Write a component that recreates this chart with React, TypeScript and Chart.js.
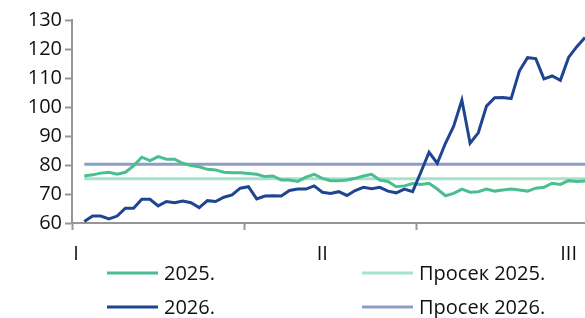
import React, { useEffect, useRef } from 'react';
import { Chart, registerables } from 'chart.js';

Chart.register(...registerables);

// ---- Data -------------------------------------------------------------
const series2025 = [
  76.2, 76.6, 77.2, 77.5, 76.8, 77.5, 79.7, 82.7, 81.5, 82.9,
  82.0, 82.0, 80.6, 79.8, 79.4, 78.5, 78.3, 77.5, 77.3, 77.3,
  77.1, 76.8, 76.0, 76.2, 74.8, 74.8, 74.3, 75.8, 76.8, 75.4,
  74.6, 74.6, 74.8, 75.4, 76.2, 76.8, 74.8, 74.3, 72.5, 72.8,
  73.6, 73.3, 73.7, 71.7, 69.4, 70.2, 71.7, 70.6, 70.8, 71.7,
  71.0, 71.4, 71.7, 71.4, 71.0, 72.0, 72.3, 73.7, 73.3, 74.6,
  74.3, 74.5,
];
const series2026 = [
  60.5, 62.4, 62.4, 61.4, 62.4, 65.1, 65.1, 68.2, 68.2, 65.9,
  67.4, 67.0, 67.6, 67.0, 65.3, 67.7, 67.4, 68.9, 69.7, 72.0,
  72.5, 68.3, 69.3, 69.4, 69.3, 71.2, 71.7, 71.7, 72.8, 70.6,
  70.2, 70.8, 69.5, 71.2, 72.3, 71.8, 72.3, 71.0, 70.4, 71.7,
  70.8, 77.5, 84.4, 80.6, 87.5, 93.4, 102.4, 87.5, 91.1, 100.3,
  103.2, 103.3, 102.9, 112.4, 117.0, 116.7, 109.7, 110.7, 109.2, 117.1,
  120.8, 124.0,
];
const mean2025 = 75.3;
const mean2026 = 80.3;

const label2025 = '2025.';
const label2026 = '2026.';
const labelMean2025 = 'Просек 2025.';
const labelMean2026 = 'Просек 2026.';

// x-axis: category 0 is the first day of January (no observation)
const monthLabels = ['I', 'II', 'III'];
const monthLabelIndex = [0, 30, 60];
const tickMarkIndex = [-0.5, 20.5, 41.5];
const xMin = -0.5;
const xMax = 62;

const yMin = 60;
const yMax = 130;
const yStep = 10;

// legend order (row by row, two columns)
const legendOrder = [label2025, labelMean2025, label2026, labelMean2026];

// ---- Styles -----------------------------------------------------------
const FONT_FAMILY = '"Open Sans", "Noto Sans", sans-serif';
const FONT_SIZE = 20;
const TEXT_COLOR = '#111111';
const AXIS_COLOR = '#969696';
const COLOR_2025 = '#4BBE8F';
const COLOR_2026 = '#1F4591';
const COLOR_MEAN_2025 = '#A6E3CB';
const COLOR_MEAN_2026 = '#8D9DC7';

const LEGEND_COLS = [107, 362];
const LEGEND_ROWS = [273, 307];
const LEGEND_LINE = 51;
const LEGEND_GAP = 6;

const legendPlugin = {
  id: 'twoColumnLegend',
  afterDraw(chart: any) {
    const { ctx } = chart;
    ctx.save();
    ctx.font = `${FONT_SIZE}px ${FONT_FAMILY}`;
    ctx.textBaseline = 'middle';
    ctx.textAlign = 'left';
    legendOrder.forEach((label, i) => {
      const ds = chart.data.datasets.find((d: any) => d.label === label);
      if (!ds) return;
      const x = LEGEND_COLS[i % 2];
      const y = LEGEND_ROWS[Math.floor(i / 2)];
      ctx.strokeStyle = ds.borderColor;
      ctx.lineWidth = 3;
      ctx.beginPath();
      ctx.moveTo(x, y);
      ctx.lineTo(x + LEGEND_LINE, y);
      ctx.stroke();
      ctx.fillStyle = TEXT_COLOR;
      ctx.fillText(label, x + LEGEND_LINE + LEGEND_GAP, y + 1);
    });
    ctx.restore();
  },
};

export default function App() {
  const ref = useRef<HTMLCanvasElement>(null);

  useEffect(() => {
    const canvas = ref.current;
    if (!canvas) return;
    const days = series2025.map((_, i) => i + 1);
    const toPoints = (vals: number[]) => vals.map((v, i) => ({ x: days[i], y: v }));
    const flat = (v: number) => [
      { x: days[0], y: v },
      { x: days[days.length - 1], y: v },
    ];
    const font = { family: FONT_FAMILY, size: FONT_SIZE };

    const chart = new Chart(canvas, {
      type: 'line',
      data: {
        datasets: [
          {
            label: label2026,
            data: toPoints(series2026),
            borderColor: COLOR_2026,
            backgroundColor: COLOR_2026,
            borderWidth: 3,
            pointRadius: 0,
            tension: 0,
          },
          {
            label: label2025,
            data: toPoints(series2025),
            borderColor: COLOR_2025,
            backgroundColor: COLOR_2025,
            borderWidth: 3,
            pointRadius: 0,
            tension: 0,
          },
          {
            label: labelMean2026,
            data: flat(mean2026),
            borderColor: COLOR_MEAN_2026,
            backgroundColor: COLOR_MEAN_2026,
            borderWidth: 3,
            pointRadius: 0,
          },
          {
            label: labelMean2025,
            data: flat(mean2025),
            borderColor: COLOR_MEAN_2025,
            backgroundColor: COLOR_MEAN_2025,
            borderWidth: 3,
            pointRadius: 0,
          },
        ],
      },
      options: {
        responsive: false,
        animation: false,
        events: [],
        layout: { padding: { top: 20, right: 0, bottom: 0, left: 0 } },
        plugins: {
          legend: { display: false },
          tooltip: { enabled: false },
        },
        scales: {
          x: {
            type: 'linear',
            min: xMin,
            max: xMax,
            afterBuildTicks: (scale: any) => {
              scale.ticks = [...tickMarkIndex, ...monthLabelIndex]
                .sort((a, b) => a - b)
                .map((v) => ({ value: v }));
            },
            afterFit: (scale: any) => {
              scale.height = 95;
              scale.paddingLeft = 0;
              scale.paddingRight = 0;
            },
            grid: {
              drawOnChartArea: false,
              drawTicks: true,
              tickLength: 7,
              tickWidth: 2,
              tickColor: (ctx: any) =>
                ctx.tick && tickMarkIndex.includes(ctx.tick.value) ? AXIS_COLOR : 'rgba(0,0,0,0)',
            },
            border: { color: AXIS_COLOR, width: 2 },
            ticks: {
              autoSkip: false,
              maxRotation: 0,
              padding: 12,
              font,
              color: TEXT_COLOR,
              callback: (v: any) => {
                const i = monthLabelIndex.indexOf(Number(v));
                return i >= 0 ? monthLabels[i] : '';
              },
            },
          },
          y: {
            min: yMin,
            max: yMax,
            afterFit: (scale: any) => {
              scale.width = 72;
            },
            grid: {
              drawOnChartArea: false,
              tickLength: 7,
              tickWidth: 2,
              tickColor: AXIS_COLOR,
            },
            border: { color: AXIS_COLOR, width: 2 },
            ticks: {
              stepSize: yStep,
              padding: 3,
              font,
              color: TEXT_COLOR,
            },
          },
        },
      },
      plugins: [legendPlugin],
    } as any);

    return () => chart.destroy();
  }, []);

  return (
    <div style={{ position: 'absolute', left: 0, top: 0, width: 585, height: 318 }}>
      <canvas ref={ref} width={585} height={318} style={{ display: 'block' }} />
    </div>
  );
}
